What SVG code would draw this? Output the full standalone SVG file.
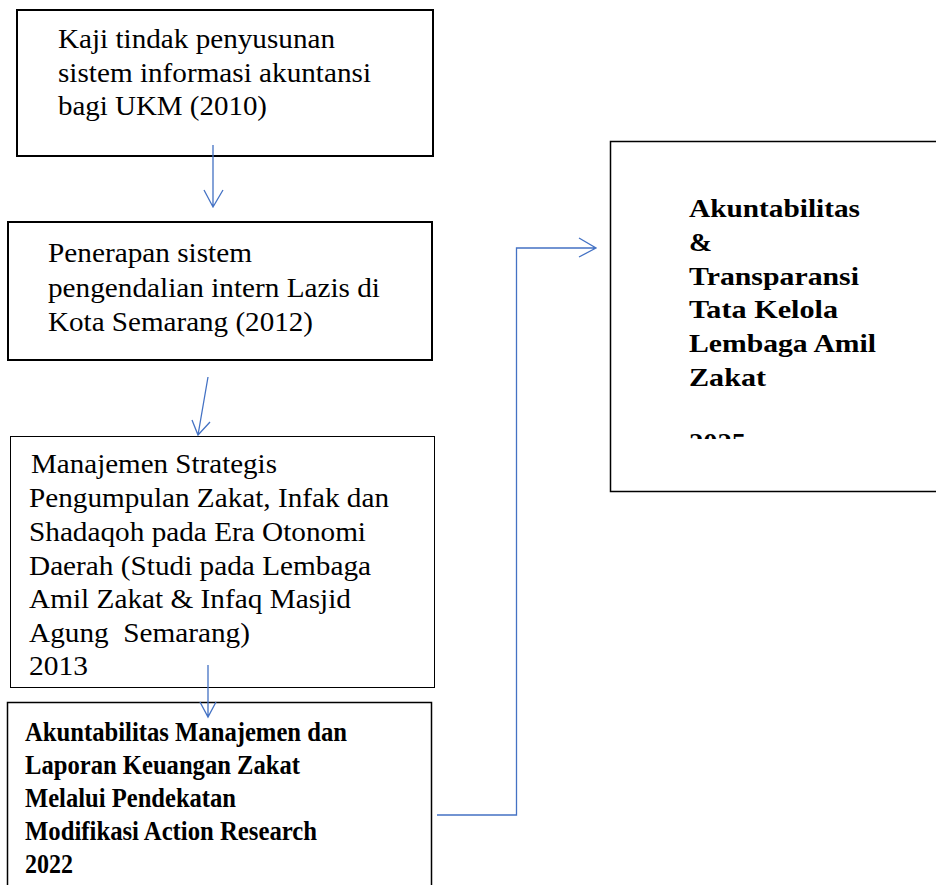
<svg xmlns="http://www.w3.org/2000/svg" width="936" height="885" viewBox="0 0 936 885">
<style>
.box{fill:#fff;stroke:#000}
.t{font-family:"Liberation Serif","Times New Roman",serif;font-size:27.5px;fill:#000}
.b{font-weight:bold;font-size:28px}
.r{font-weight:bold;font-size:26px}
.c{fill:none;stroke:#4472C4;stroke-width:1.3}
</style>
<defs>
<clipPath id="clip2025"><rect x="600" y="400" width="336" height="39"/></clipPath>
</defs>
<rect width="936" height="885" fill="#fff"/>
<g id="n1">
<rect class="box" x="17" y="10" width="416" height="146" stroke-width="2"/>
<text class="t" x="58" y="48" textLength="277" lengthAdjust="spacingAndGlyphs">Kaji tindak penyusunan</text>
<text class="t" x="58" y="82" textLength="313" lengthAdjust="spacingAndGlyphs">sistem informasi akuntansi</text>
<text class="t" x="58" y="115" textLength="209" lengthAdjust="spacingAndGlyphs">bagi UKM (2010)</text>
</g>
<g id="n2">
<rect class="box" x="8" y="222" width="424" height="138" stroke-width="2"/>
<text class="t" x="48" y="262" textLength="204" lengthAdjust="spacingAndGlyphs">Penerapan sistem</text>
<text class="t" x="48" y="297" textLength="332" lengthAdjust="spacingAndGlyphs">pengendalian intern Lazis di</text>
<text class="t" x="48" y="331" textLength="265" lengthAdjust="spacingAndGlyphs">Kota Semarang (2012)</text>
</g>
<g id="n3">
<rect class="box" x="10.5" y="436.5" width="424" height="251" stroke-width="1"/>
<text class="t" x="31" y="473" textLength="246" lengthAdjust="spacingAndGlyphs">Manajemen Strategis</text>
<text class="t" x="29" y="507" textLength="360" lengthAdjust="spacingAndGlyphs">Pengumpulan Zakat, Infak dan</text>
<text class="t" x="29" y="541" textLength="337" lengthAdjust="spacingAndGlyphs">Shadaqoh pada Era Otonomi</text>
<text class="t" x="29" y="575" textLength="342" lengthAdjust="spacingAndGlyphs">Daerah (Studi pada Lembaga</text>
<text class="t" x="29" y="608" textLength="322" lengthAdjust="spacingAndGlyphs">Amil Zakat &amp; Infaq Masjid</text>
<text class="t" x="29" y="642" textLength="221" lengthAdjust="spacingAndGlyphs" xml:space="preserve">Agung  Semarang)</text>
<text class="t" x="29" y="675" textLength="59" lengthAdjust="spacingAndGlyphs">2013</text>
</g>
<g id="n4">
<rect class="box" x="7.5" y="702.5" width="424" height="200" stroke-width="1.5"/>
<text class="t b" x="25" y="741" textLength="322" lengthAdjust="spacingAndGlyphs">Akuntabilitas Manajemen dan</text>
<text class="t b" x="25" y="774" textLength="275" lengthAdjust="spacingAndGlyphs">Laporan Keuangan Zakat</text>
<text class="t b" x="25" y="807" textLength="211" lengthAdjust="spacingAndGlyphs">Melalui Pendekatan</text>
<text class="t b" x="25" y="840" textLength="292" lengthAdjust="spacingAndGlyphs">Modifikasi Action Research</text>
<text class="t b" x="25" y="873" textLength="48" lengthAdjust="spacingAndGlyphs">2022</text>
</g>
<g id="n5">
<rect class="box" x="610.5" y="141.5" width="340" height="350" stroke-width="1.5"/>
<text class="t r" x="689" y="217" textLength="171" lengthAdjust="spacingAndGlyphs">Akuntabilitas</text>
<text class="t r" x="689" y="251" textLength="23" lengthAdjust="spacingAndGlyphs">&amp;</text>
<text class="t r" x="689" y="285" textLength="170" lengthAdjust="spacingAndGlyphs">Transparansi</text>
<text class="t r" x="689" y="318" textLength="149" lengthAdjust="spacingAndGlyphs">Tata Kelola</text>
<text class="t r" x="689" y="352" textLength="187" lengthAdjust="spacingAndGlyphs">Lembaga Amil</text>
<text class="t r" x="689" y="386" textLength="77" lengthAdjust="spacingAndGlyphs">Zakat</text>
<text class="t r" x="689" y="451" textLength="57" lengthAdjust="spacingAndGlyphs" clip-path="url(#clip2025)">2025</text>
</g>
<g id="connectors">
<path class="c" d="M213 145V207M204 190L213 207L223 190"/>
<path class="c" d="M208 377L198 435M192 420L198 435L210 422"/>
<path class="c" d="M208 665V717M200 702L208 717L216 702"/>
<path class="c" d="M437 815H516.5V248H596M579 238L596 248L579 257"/>
</g>
</svg>
